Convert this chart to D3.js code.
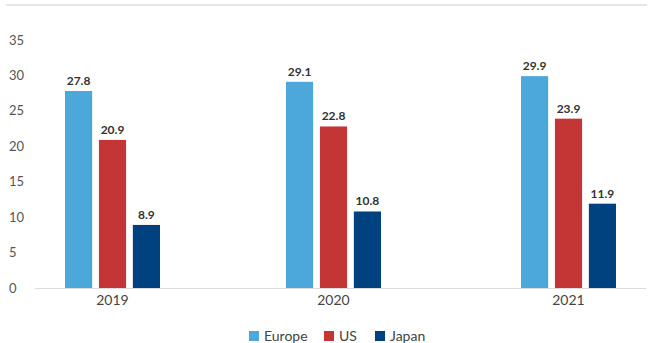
<!DOCTYPE html>
<head>
<meta charset="utf-8">
<script src="https://d3js.org/d3.v7.min.js"></script>
<style>
body { margin:0; background:#fff; }
text { font-family: Lato, "Open Sans", sans-serif; }
</style>
</head>
<body>
<script>

var years = ["2019", "2020", "2021"];
var series = ["Europe", "US", "Japan"];
var europe = [27.8, 29.1, 29.9];
var us = [20.9, 22.8, 23.9];
var japan = [8.9, 10.8, 11.9];
var yTicks = [0, 5, 10, 15, 20, 25, 30, 35];

var colors = ["#4ca7db", "#c43636", "#00427f"];
var values = [europe, us, japan];

var width = 652,
  height = 343;

var svg = d3.select("body").append("svg")
  .attr("width", width)
  .attr("height", height);

// top rule
svg.append("line")
  .attr("x1", 6).attr("x2", 647)
  .attr("y1", 5).attr("y2", 5)
  .style("stroke", "#e6e6e6")
  .style("stroke-width", 2);

var y = d3.scaleLinear()
  .domain([0, 35])
  .range([288, 40]);

// group centres are not evenly spaced in the original
var x = d3.scaleOrdinal()
  .domain(years)
  .range([112.5, 333.5, 568.5]);

var xs = d3.scaleBand()
  .domain(series)
  .range([-47.5, 47.5])
  .paddingInner(0.2);

// y tick labels
svg.append("g")
  .selectAll("text")
  .data(yTicks)
  .enter().append("text")
  .attr("x", 9)
  .attr("y", function(d) { return y(d); })
  .attr("dy", "0.35em")
  .style("font-size", "13px")
  .style("fill", "#555")
  .text(function(d) { return d; });

// baseline
svg.append("line")
  .attr("x1", 35).attr("x2", 646)
  .attr("y1", y(0) + 0.5).attr("y2", y(0) + 0.5)
  .style("stroke", "#dcdcdc");

var bars = [];
years.forEach(function(yr, i) {
  series.forEach(function(s, j) {
    bars.push({ year: yr, series: s, value: values[j][i], color: colors[j] });
  });
});

var g = svg.append("g");

g.selectAll("rect")
  .data(bars)
  .enter().append("rect")
  .attr("x", function(d) { return x(d.year) + xs(d.series); })
  .attr("width", xs.bandwidth())
  .attr("y", function(d) { return y(d.value); })
  .attr("height", function(d) { return y(0) - y(d.value); })
  .style("fill", function(d) { return d.color; });

g.selectAll("text.val")
  .data(bars)
  .enter().append("text")
  .attr("class", "val")
  .attr("x", function(d) { return x(d.year) + xs(d.series) + xs.bandwidth() / 2; })
  .attr("y", function(d) { return y(d.value) - 6; })
  .attr("text-anchor", "middle")
  .style("font-size", "12px")
  .style("font-weight", "bold")
  .style("fill", "#333")
  .text(function(d) { return d.value.toFixed(1); });

// x labels
svg.append("g")
  .selectAll("text")
  .data(years)
  .enter().append("text")
  .attr("x", function(d) { return x(d); })
  .attr("y", 305)
  .attr("text-anchor", "middle")
  .style("font-size", "14px")
  .style("fill", "#444")
  .text(function(d) { return d; });

// legend
var legendX = [249, 324, 375];
var legend = svg.append("g")
  .selectAll("g")
  .data(series)
  .enter().append("g")
  .attr("transform", function(d, i) { return "translate(" + legendX[i] + ",331)"; });

legend.append("rect")
  .attr("width", 10).attr("height", 10)
  .style("fill", function(d, i) { return colors[i]; });

legend.append("text")
  .attr("x", 15)
  .attr("y", 5)
  .attr("dy", "0.36em")
  .style("font-size", "14px")
  .style("fill", "#444")
  .text(function(d) { return d; });

</script>
</body>
